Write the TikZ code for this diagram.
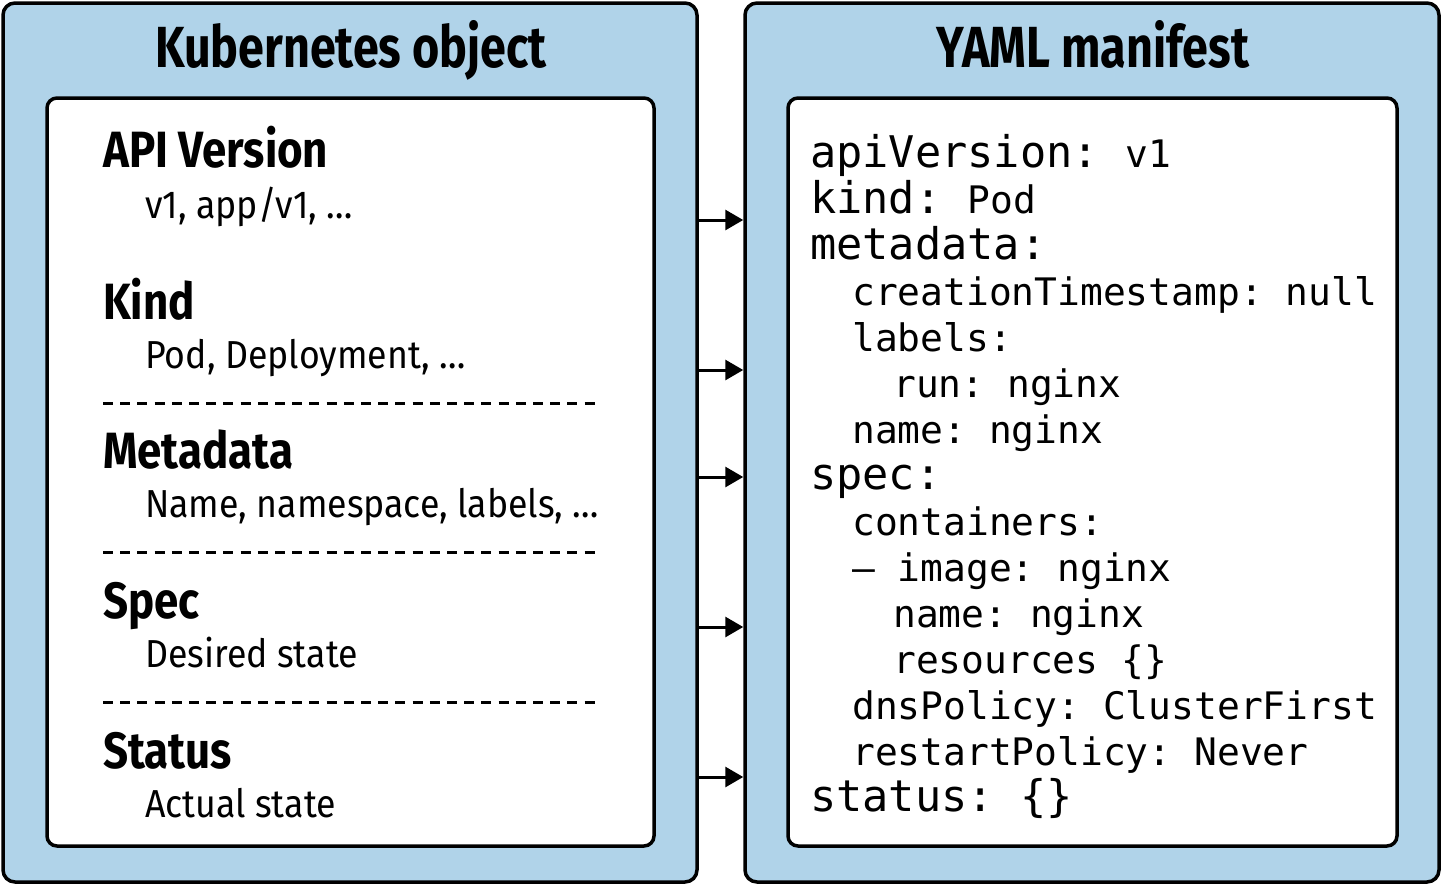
\documentclass[tikz,border=0pt]{standalone}
\usepackage{fontspec}
\setmainfont[FakeStretch=0.9]{Fira Sans}
\newfontfamily\headfont[FakeStretch=0.805]{Fira Sans}
\newfontfamily\fieldfont[FakeStretch=0.86]{Fira Sans}
\newfontfamily\hintfont[FakeStretch=0.915]{Fira Sans}
\newfontfamily\yamlfont{DejaVu Sans Mono}
\usetikzlibrary{positioning,arrows.meta}
\definecolor{panelblue}{RGB}{176,211,233}

\tikzset{
  panel/.style={draw, fill=panelblue, line width=3.5pt, rounded corners=12pt, inner sep=0pt},
  sheet/.style={draw, fill=white, line width=3.5pt, rounded corners=10pt, inner sep=0pt},
  heading/.style={anchor=base, inner sep=0pt, font=\headfont\bfseries\fontsize{58}{60}\selectfont},
  field/.style={anchor=base west, inner sep=0pt, font=\fieldfont\bfseries\fontsize{51}{54}\selectfont},
  hint/.style={anchor=base west, inner sep=0pt, font=\hintfont\fontsize{39}{42}\selectfont},
  key/.style={anchor=base west, inner sep=0pt, font=\yamlfont\frenchspacing\fontsize{43.6}{46}\selectfont},
  sub/.style={anchor=base west, inner sep=0pt, font=\yamlfont\frenchspacing\fontsize{37.9}{46}\selectfont},
  sep/.style={line width=3pt, dash pattern=on 10pt off 7.2pt},
  link/.style={line width=3pt, -{Triangle[length=18pt,width=20pt]}},
}

\begin{document}
\begin{tikzpicture}[x=1pt,y=-1pt]
        \useasboundingbox (0,0) rectangle (1444,887);
        \node[panel, minimum width=694pt, minimum height=879pt] (kobj) at (350,442.5) {};
        \node[panel, minimum width=694pt, minimum height=879pt] (yaml) at (1092,442.5) {};
        \node[sheet, minimum width=607pt, minimum height=748pt] (kbox) at (350.5,472) {};
        \node[sheet, minimum width=609pt, minimum height=748pt] (ybox) at (1092.5,472) {};
        \node[heading] (ktitle) at (351,67) {Kubernetes object};
        \node[heading] (ytitle) at (1093,67) {YAML manifest};
        % object fields
        \node[field] (api) at (103,167) {API Version};
        \node[hint] (apiv) at (145,218) {v1, app/v1, …};
        \node[field] (kind) at (103,319) {Kind};
        \node[hint] (kindv) at (145,368) {Pod, Deployment, …};
        \node[field] (meta) at (103,468) {Metadata};
        \node[hint] (metav) at (145,517) {Name, namespace, labels, …};
        \node[field] (spec) at (103,618) {Spec};
        \node[hint] (specv) at (145,667) {Desired state};
        \node[field] (stat) at (103,768) {Status};
        \node[hint] (statv) at (145,817) {Actual state};
        \draw[sep] (103,403) -- (595,403);
        \draw[sep] (103,552) -- (595,552);
        \draw[sep] (103,702) -- (595,702);
        % manifest lines
        \node[key] (y1) at (810,167) {apiVersion: \fontsize{37.9}{46}\selectfont v1};
        \node[key] (y2) at (810,213) {kind: \fontsize{37.9}{46}\selectfont Pod};
        \node[key] (y3) at (810,259) {metadata:};
        \node[sub] (y4) at (852,305) {creationTimestamp: null};
        \node[sub] (y5) at (852,351) {labels:};
        \node[sub] (y6) at (893,397) {run: nginx};
        \node[sub] (y7) at (852,443) {name: nginx};
        \node[key] (y8) at (810,489) {spec:};
        \node[sub] (y9) at (852,535) {containers:};
        \node[sub] (y10) at (852,581) {– image: nginx};
        \node[sub] (y11) at (893,627) {name: nginx};
        \node[sub] (y12) at (893,673) {resources \{\}};
        \node[sub] (y13) at (852,719) {dnsPolicy: ClusterFirst};
        \node[sub] (y14) at (852,765) {restartPolicy: Never};
        \node[key] (y15) at (810,811) {status: \{\}};
        % arrows between panels
        \draw[link] (kobj.east |- 0,220) -- (yaml.west |- 0,220);
        \draw[link] (kobj.east |- 0,370) -- (yaml.west |- 0,370);
        \draw[link] (kobj.east |- 0,477) -- (yaml.west |- 0,477);
        \draw[link] (kobj.east |- 0,627) -- (yaml.west |- 0,627);
        \draw[link] (kobj.east |- 0,777) -- (yaml.west |- 0,777);
    \end{tikzpicture}
\end{document}
